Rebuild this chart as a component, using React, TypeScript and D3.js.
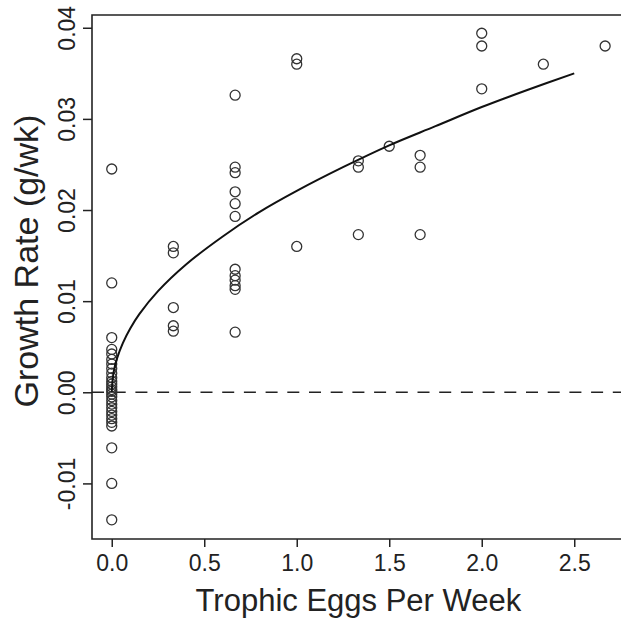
import * as d3 from "d3";
import { useEffect, useRef } from "react";

// trophic eggs per week for each animal, and its growth rate (g/wk)
const eggs = [
  0, 0, 0, 0, 0, 0, 0, 0, 0, 0, 0, 0, 0, 0, 0, 0, 0, 0, 0, 0, 0, 0, 0, 0, 0, 0, 0, 0,
  0.333, 0.333, 0.333, 0.333, 0.333,
  0.667, 0.667, 0.667, 0.667, 0.667, 0.667, 0.667, 0.667, 0.667, 0.667, 0.667, 0.667,
  1.0, 1.0, 1.0,
  1.333, 1.333, 1.333,
  1.5,
  1.667, 1.667, 1.667,
  2.0, 2.0, 2.0,
  2.333,
  2.667,
];
const growth = [
  0.0245, 0.012, 0.006, 0.0047, 0.0042, 0.0036, 0.0031, 0.0026, 0.0021, 0.0016,
  0.0012, 0.0009, 0.0006, 0.0003, 0.0001, -0.0002, -0.0005, -0.0009, -0.0013,
  -0.0017, -0.0021, -0.0025, -0.0029, -0.0033, -0.0037, -0.0061, -0.01, -0.014,
  0.016, 0.0153, 0.0093, 0.0073, 0.0067,
  0.0326, 0.0247, 0.0241, 0.022, 0.0207, 0.0193, 0.0135, 0.0128, 0.0123, 0.0117,
  0.0113, 0.0066,
  0.0366, 0.036, 0.016,
  0.0254, 0.0247, 0.0173,
  0.027,
  0.026, 0.0247, 0.0173,
  0.0394, 0.038, 0.0333,
  0.036,
  0.038,
];

// fitted curve
const fitX = [0, 0.01, 0.03, 0.06, 0.1, 0.15, 0.25, 0.4, 0.6, 0.8, 1.0, 1.25, 1.5, 1.75, 2.0, 2.25, 2.5];
const fitY = [0, 0.0022, 0.0038, 0.0054, 0.007, 0.0086, 0.0111, 0.014, 0.0171, 0.0198, 0.0221, 0.0247, 0.0271, 0.0292, 0.0313, 0.0332, 0.035];

const xTicks = [0, 0.5, 1.0, 1.5, 2.0, 2.5];
const yTicks = [-0.01, 0, 0.01, 0.02, 0.03, 0.04];

export default function App() {
  const ref = useRef<SVGSVGElement>(null);

  useEffect(() => {
    const W = 621, H = 620;
    const left = 92, top = 15, bottom = 539;
    const svg = d3.select(ref.current);
    svg.selectAll("*").remove();

    const x = d3.scaleLinear().domain([-0.1067, 2.7734]).range([left, left + 185 * 2.8801]);
    const y = d3.scaleLinear().domain([-0.0161, 0.0414]).range([bottom, top]);
    const font = "Liberation Sans, Arial, Helvetica, sans-serif";

    svg.append("rect").attr("width", W).attr("height", H).attr("fill", "#fff");

    // plot box: its right side is cut off by the picture edge
    svg.append("path")
      .attr("d", `M${W},${top}H${left}V${bottom}H${W}`)
      .attr("fill", "none").attr("stroke", "#222").attr("stroke-width", 1.6);

    // x axis
    const gx = svg.append("g").attr("transform", `translate(0,${bottom})`)
      .call(d3.axisBottom(x).tickValues(xTicks).tickFormat(d3.format(".1f")).tickSize(8).tickSizeOuter(0));
    gx.select(".domain").remove();
    gx.selectAll("line").attr("stroke", "#222").attr("stroke-width", 1.5);
    gx.selectAll("text").attr("font-family", font).attr("font-size", 23).attr("fill", "#222").attr("dy", "0.92em");

    // y axis (plain hyphen for negatives, like R)
    const fmtY = (d: d3.NumberValue) => (+d).toFixed(2);
    const gy = svg.append("g").attr("transform", `translate(${left},0)`)
      .call(d3.axisLeft(y).tickValues(yTicks).tickFormat(fmtY).tickSize(9).tickSizeOuter(0));
    gy.select(".domain").remove();
    gy.selectAll("line").attr("stroke", "#222").attr("stroke-width", 1.5);
    gy.selectAll("text")
      .attr("font-family", font).attr("font-size", 23).attr("fill", "#222")
      .attr("text-anchor", "middle").attr("x", 0).attr("dy", 0)
      .attr("transform", "translate(-17,0) rotate(-90)");

    // zero reference line
    svg.append("line")
      .attr("x1", left).attr("x2", W).attr("y1", y(0)).attr("y2", y(0))
      .attr("stroke", "#222").attr("stroke-width", 1.6).attr("stroke-dasharray", "12 9.7");

    // points
    svg.append("g").selectAll("circle")
      .data(eggs.map((e, i) => [e, growth[i]]))
      .enter().append("circle")
      .attr("cx", d => x(d[0])).attr("cy", d => y(d[1])).attr("r", 5)
      .attr("fill", "none").attr("stroke", "#333").attr("stroke-width", 1.3);

    // fit
    const line = d3.line<number>()
      .x(d => x(d))
      .y((d, i) => y(fitY[i]))
      .curve(d3.curveCatmullRom);
    svg.append("path").attr("d", line(fitX))
      .attr("fill", "none").attr("stroke", "#111").attr("stroke-width", 2);

    // titles
    svg.append("text")
      .attr("x", (x.range()[0] + x.range()[1]) / 2).attr("y", 611)
      .attr("text-anchor", "middle").attr("font-family", font).attr("font-size", 31).attr("fill", "#222")
      .text("Trophic Eggs Per Week");
    svg.append("text")
      .attr("transform", `translate(38,261) rotate(-90)`)
      .attr("text-anchor", "middle").attr("font-family", font).attr("font-size", 34).attr("fill", "#222")
      .text("Growth Rate (g/wk)");
  }, []);

  return (
    <svg ref={ref} width={621} height={620}
      style={{ display: "block", position: "fixed", left: 0, top: 0 }} />
  );
}
